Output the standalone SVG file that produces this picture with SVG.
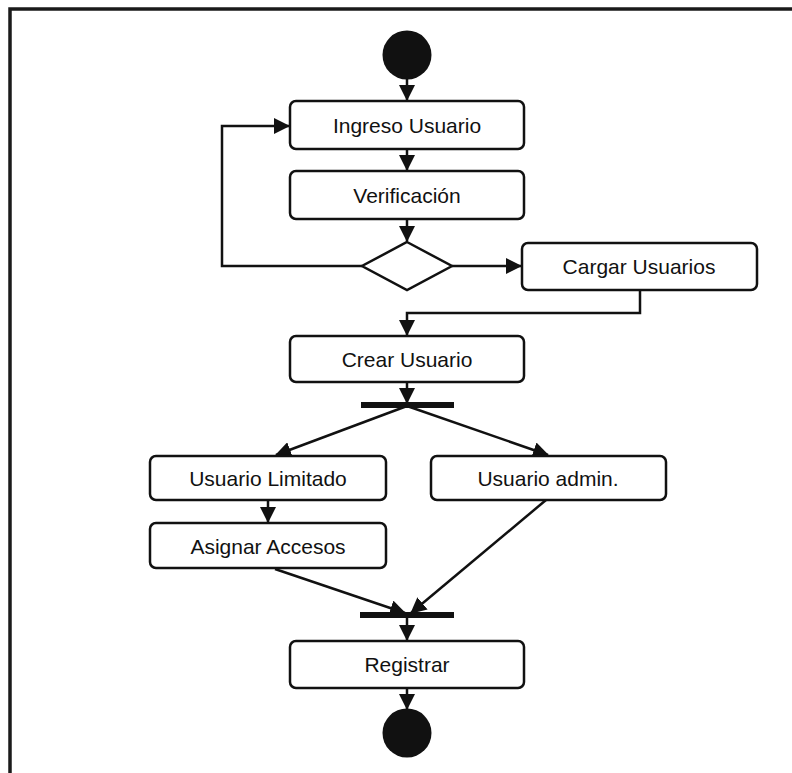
<svg xmlns="http://www.w3.org/2000/svg" width="792" height="773" viewBox="0 0 792 773">
  <style>
    .box { fill: #ffffff; stroke: #111111; stroke-width: 2.5; }
    .lbl { font-family: "Liberation Sans", Arial, sans-serif; font-size: 21px; fill: #111111; text-anchor: middle; }
    .flow { fill: none; stroke: #111111; stroke-width: 2.5; }
    .bar { fill: #111111; }
    .dot { fill: #111111; }
  </style>
  <defs>
    <marker id="arrow" markerUnits="userSpaceOnUse" markerWidth="16" markerHeight="16" viewBox="0 0 16 16" refX="15" refY="8" orient="auto">
      <path d="M0,0 L16,8 L0,16 Z" fill="#111111"/>
    </marker>
  </defs>

  <!-- frame -->
  <rect x="0" y="0" width="792" height="773" fill="#ffffff"/>
  <path d="M10,773 L10,9 L792,9" fill="none" stroke="#1a1a1a" stroke-width="3.5"/>

  <!-- connectors -->
  <g id="connectors">
    <path class="flow" d="M407,79 L407,100" marker-end="url(#arrow)"/>
    <path class="flow" d="M407,149 L407,170" marker-end="url(#arrow)"/>
    <path class="flow" d="M407,219 L407,241" marker-end="url(#arrow)"/>
    <path class="flow" d="M362,266 L222,266 L222,126 L289,126" marker-end="url(#arrow)"/>
    <path class="flow" d="M452,266 L521,266" marker-end="url(#arrow)"/>
    <path class="flow" d="M640,290 L640,313 L407,313 L407,335" marker-end="url(#arrow)"/>
    <path class="flow" d="M407,382 L407,403" marker-end="url(#arrow)"/>
    <path class="flow" d="M407,406 L276,455" marker-end="url(#arrow)"/>
    <path class="flow" d="M407,406 L548,455" marker-end="url(#arrow)"/>
    <path class="flow" d="M268,500 L268,522" marker-end="url(#arrow)"/>
    <path class="flow" d="M275,569 L405,613" marker-end="url(#arrow)"/>
    <path class="flow" d="M546,500 L411,613" marker-end="url(#arrow)"/>
    <path class="flow" d="M407,616 L407,640" marker-end="url(#arrow)"/>
    <path class="flow" d="M407,688 L407,709" marker-end="url(#arrow)"/>
  </g>

  <g id="start">
    <circle class="dot" cx="407" cy="55" r="24.5"/>
  </g>

  <g id="ingreso">
    <rect class="box" x="290" y="101" width="234" height="48" rx="6"/>
    <text class="lbl" x="407" y="133">Ingreso Usuario</text>
  </g>

  <g id="verificacion">
    <rect class="box" x="290" y="171" width="234" height="48" rx="6"/>
    <text class="lbl" x="407" y="203">Verificación</text>
  </g>

  <g id="decision">
    <polygon class="box" points="407,242 452,266 407,290 362,266"/>
  </g>

  <g id="cargar">
    <rect class="box" x="522" y="243" width="235" height="47" rx="6"/>
    <text class="lbl" x="639" y="274">Cargar Usuarios</text>
  </g>

  <g id="crear">
    <rect class="box" x="290" y="336" width="234" height="46" rx="6"/>
    <text class="lbl" x="407" y="367">Crear Usuario</text>
  </g>

  <g id="fork">
    <rect class="bar" x="361" y="402" width="93" height="6"/>
  </g>

  <g id="limitado">
    <rect class="box" x="150" y="456" width="236" height="44" rx="6"/>
    <text class="lbl" x="268" y="486">Usuario Limitado</text>
  </g>

  <g id="admin">
    <rect class="box" x="431" y="456" width="235" height="44" rx="6"/>
    <text class="lbl" x="548" y="486">Usuario admin.</text>
  </g>

  <g id="asignar">
    <rect class="box" x="150" y="523" width="236" height="45" rx="6"/>
    <text class="lbl" x="268" y="554">Asignar Accesos</text>
  </g>

  <g id="join">
    <rect class="bar" x="360" y="612" width="94" height="6"/>
  </g>

  <g id="registrar">
    <rect class="box" x="290" y="641" width="234" height="47" rx="6"/>
    <text class="lbl" x="407" y="672">Registrar</text>
  </g>

  <g id="end">
    <circle class="dot" cx="407" cy="733" r="24.5"/>
  </g>
</svg>
